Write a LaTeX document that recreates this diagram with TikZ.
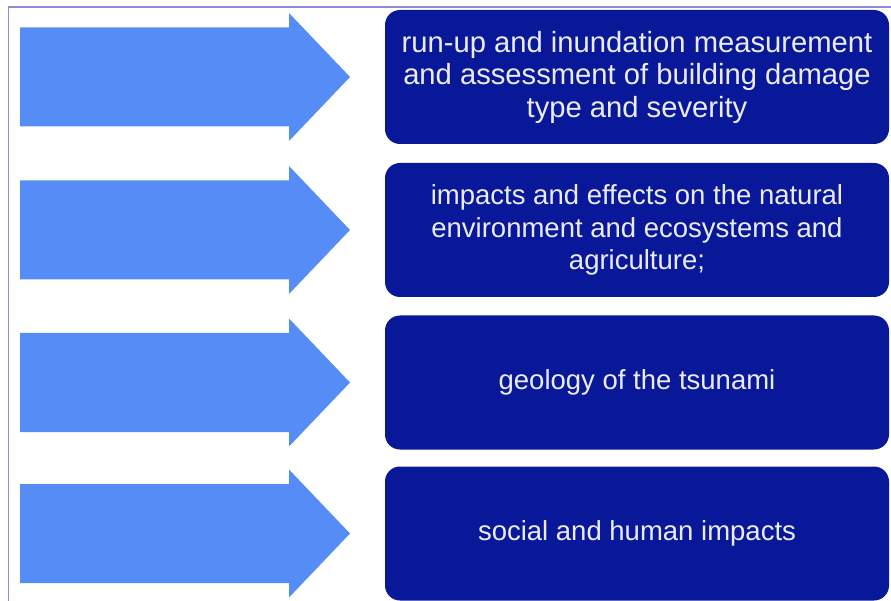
\documentclass[tikz,border=0pt]{standalone}
\usepackage{fontspec}
\setmainfont{Liberation Sans}
\usepackage{xcolor}
\usetikzlibrary{positioning}

\definecolor{arrowblue}{RGB}{86,140,245}
\definecolor{boxnavy}{RGB}{8,24,152}
\definecolor{framegray}{RGB}{140,140,215}
\definecolor{boxtext}{RGB}{236,236,255}

\tikzset{
    topicbox/.style={draw=none, fill=boxnavy, rounded corners=15pt,
        minimum width=504pt, minimum height=134pt, inner sep=0pt,
        text=boxtext, align=center},
    bigarrow/.style={fill=arrowblue}
}

\begin{document}
\begin{tikzpicture}[x=1pt, y=-1pt]
\useasboundingbox (0,0) rectangle (891,601);

% ── Frame ─────────────────────────────────────────────────────────
\draw[framegray, line width=1.2pt] (891,7) -- (8.5,7) -- (8.5,601);

% ── Arrows and topic boxes ───────────────────────────────────────
\foreach \i/\yc/\fs/\txt in {
    1/77/29.2/{run-up and inundation measurement\\and assessment of building damage\\type and severity},
    2/230/27.5/{impacts and effects on the natural\\environment and ecosystems and\\agriculture;},
    3/382.5/27.5/{geology of the tsunami},
    4/533.5/27.5/{social and human impacts}} {
    % arrow
    \fill[bigarrow] (20,\yc-49.5) -- (289,\yc-49.5) -- (289,\yc-64)
        -- (350,\yc) -- (289,\yc+64) -- (289,\yc+49.5) -- (20,\yc+49.5) -- cycle;
    % box
    \node[topicbox, font=\fontsize{\fs pt}{32.5pt}\selectfont] (topic\i) at (637,\yc) {\txt};
}

\end{tikzpicture}
\end{document}
